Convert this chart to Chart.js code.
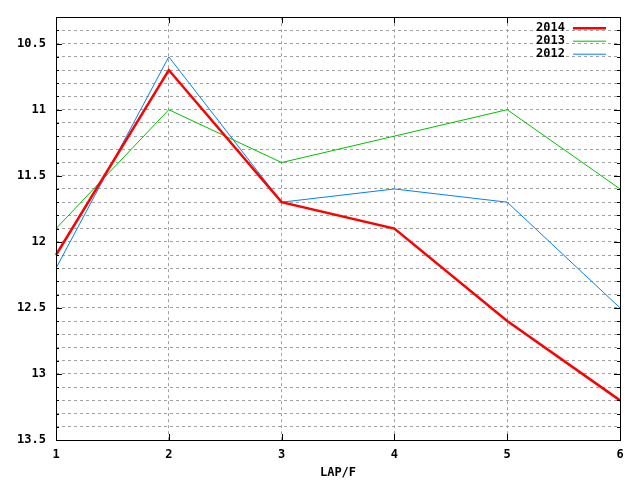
<!DOCTYPE html>
<html>
<head>
<meta charset="utf-8">
<script src="https://cdn.jsdelivr.net/npm/chart.js@4"></script>
<style>
  body { margin: 0; background: #fff; }
  #wrap { width: 640px; height: 480px; }
</style>
</head>
<body>
<div id="wrap"><canvas id="lapChart" width="640" height="480"></canvas></div>
<script>
// laps on the x axis, times per year
const laps = ['1', '2', '3', '4', '5', '6'];
const times2014 = [12.1, 10.7, 11.7, 11.9, 12.6, 13.2];
const times2013 = [11.9, 11.0, 11.4, 11.2, 11.0, 11.6];
const times2012 = [12.2, 10.6, 11.7, 11.6, 11.7, 12.5];
const yMin = 10.3, yMax = 13.5;

const labelFont = { family: 'DejaVu Sans Mono', size: 12, weight: 'bold' };

// gnuplot-ish frame, inside ticks and key
const framePlugin = {
    id: 'frame',
    afterDatasetsDraw(chart) {
        const { ctx, chartArea: a, scales } = chart;
        ctx.save();
        ctx.strokeStyle = '#000';
        ctx.lineWidth = 1;
        ctx.beginPath();
        scales.y.ticks.forEach(t => {
            const y = Math.round(scales.y.getPixelForValue(t.value)) + 0.5;
            const len = Math.round(t.value * 10) % 5 === 0 ? 6 : 3;
            ctx.moveTo(a.left, y); ctx.lineTo(a.left + len, y);
            ctx.moveTo(a.right, y); ctx.lineTo(a.right - len, y);
        });
        scales.x.ticks.forEach((t, i) => {
            const x = Math.round(scales.x.getPixelForValue(i)) + 0.5;
            ctx.moveTo(x, a.bottom); ctx.lineTo(x, a.bottom - 6);
            ctx.moveTo(x, a.top); ctx.lineTo(x, a.top + 6);
        });
        ctx.stroke();
        ctx.strokeRect(Math.round(a.left) + 0.5, Math.round(a.top) + 0.5,
            Math.round(a.right - a.left), Math.round(a.bottom - a.top));

        // key
        ctx.font = 'bold 12px "DejaVu Sans Mono"';
        ctx.textAlign = 'right';
        ctx.textBaseline = 'middle';
        ctx.fillStyle = '#000';
        chart.data.datasets.forEach((ds, i) => {
            const y = a.top + 11 + i * 13;
            ctx.fillText(ds.label, a.right - 55, y);
            ctx.strokeStyle = ds.borderColor;
            ctx.lineWidth = ds.borderWidth;
            ctx.beginPath();
            ctx.moveTo(a.right - 47, y);
            ctx.lineTo(a.right - 14, y);
            ctx.stroke();
        });
        ctx.restore();
    }
};

const lapChart = new Chart(document.getElementById('lapChart').getContext('2d'), {
    type: 'line',
    data: {
        labels: laps,
        datasets: [
            { label: '2014', data: times2014, borderColor: '#ff0000', borderWidth: 2.5 },
            { label: '2013', data: times2013, borderColor: '#00c000', borderWidth: 1 },
            { label: '2012', data: times2012, borderColor: '#0080ff', borderWidth: 1 }
        ]
    },
    options: {
        responsive: false,
        animation: false,
        devicePixelRatio: 1,
        elements: { point: { radius: 0 }, line: { tension: 0 } },
        layout: { padding: { top: 13, right: 20, left: 0, bottom: 0 } },
        plugins: { legend: { display: false }, tooltip: { enabled: false } },
        scales: {
            x: {
                offset: false,
                afterFit: s => { s.height = 40; },
                grid: { color: '#a0a0a0', drawTicks: false },
                border: { display: false, dash: [3, 3] },
                ticks: { color: '#000', font: labelFont, padding: 8, maxRotation: 0 },
                title: { display: true, text: 'LAP/F', color: '#000', font: labelFont, padding: { top: 2, bottom: 0 } }
            },
            y: {
                reverse: true,
                min: yMin,
                max: yMax,
                afterFit: s => { s.width = 56; },
                grid: { color: '#a0a0a0', drawTicks: false },
                border: { display: false, dash: [3, 3] },
                ticks: {
                    stepSize: 0.1,
                    autoSkip: false,
                    color: '#000',
                    font: labelFont,
                    padding: 10,
                    callback: v => (Math.round(v * 10) % 5 === 0 ? String(Math.round(v * 10) / 10) : '')
                }
            }
        }
    },
    plugins: [framePlugin]
});
</script>
</body>
</html>
